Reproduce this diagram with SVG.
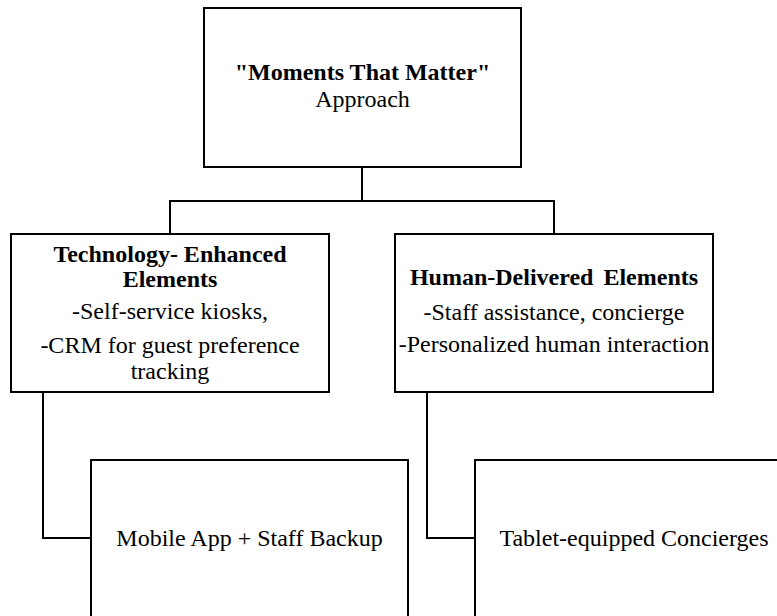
<svg xmlns="http://www.w3.org/2000/svg" width="777" height="616" viewBox="0 0 777 616">
<style>
.box{fill:#fff;stroke:#000;stroke-width:2}
.con{fill:none;stroke:#000;stroke-width:2}
text{fill:#000;text-anchor:middle;font-size:24px;font-family:"Liberation Serif","Times New Roman",serif}
.b{font-weight:bold}
</style>
<rect width="777" height="616" fill="#fff"/>
<g id="connectors">
<path class="con" d="M362,167 V201 M170,234 V201 H554 V234"/>
<path class="con" d="M43,392 V538 H91"/>
<path class="con" d="M427,392 V538 H475"/>
</g>
<g id="root">
<rect class="box" x="204" y="8" width="317" height="159"/>
<text class="b" x="362.5" y="80">"Moments That Matter"</text>
<text x="362.5" y="107">Approach</text>
</g>
<g id="tech">
<rect class="box" x="11" y="234" width="318" height="158"/>
<text class="b" x="170" y="262">Technology- Enhanced</text>
<text class="b" x="170" y="287">Elements</text>
<text x="170" y="319">-Self-service kiosks,</text>
<text x="170" y="353">-CRM for guest preference</text>
<text x="170" y="379">tracking</text>
</g>
<g id="human">
<rect class="box" x="395" y="234" width="318" height="158"/>
<text class="b" x="554" y="285" word-spacing="4">Human-Delivered Elements</text>
<text x="554" y="320">-Staff assistance, concierge</text>
<text x="554" y="352">-Personalized human interaction</text>
</g>
<g id="mobile">
<rect class="box" x="91" y="460" width="317" height="160"/>
<text x="249.5" y="546">Mobile App + Staff Backup</text>
</g>
<g id="tablet">
<rect class="box" x="475" y="460" width="318" height="160"/>
<text x="634" y="546">Tablet-equipped Concierges</text>
</g>
</svg>
